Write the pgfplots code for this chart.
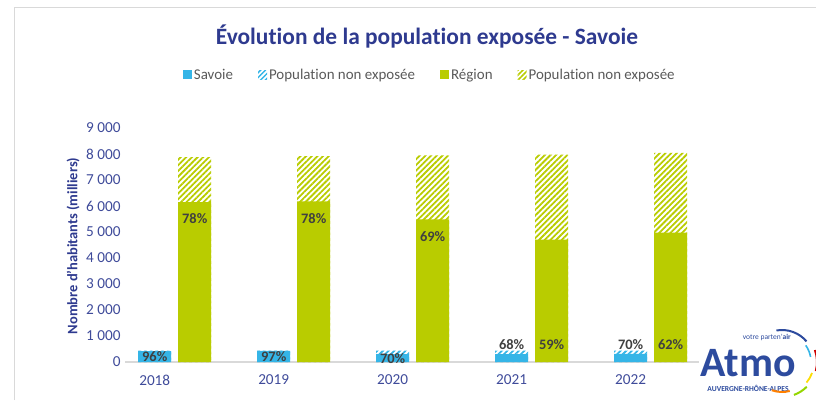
\documentclass[border=0pt]{standalone}
\usepackage{pgfplots}
\pgfplotsset{compat=1.18}
\usepackage{fontspec}
\setmainfont{Carlito}[Ligatures={NoCommon,NoContextual}]
\usetikzlibrary{patterns.meta}
\definecolor{cyanc}{HTML}{35B5E7}
\definecolor{greenc}{HTML}{B9CC00}
\definecolor{titleblue}{HTML}{2E3A8F}
\definecolor{tickblue}{HTML}{3F4B9A}
\definecolor{lblgray}{HTML}{404040}
\definecolor{atmoblue}{HTML}{2D4B9E}
\begin{document}
\begin{tikzpicture}[x=1bp,y=1bp]
\useasboundingbox (0,0) rectangle (816,400);
\draw[black!15, line width=1bp] (14,0) -- (14,392) -- (816,392);
\node[font=\fontsize{23.5}{26}\selectfont\bfseries, text=titleblue] at (427,363) {Évolution de la populat\kern0pt ion exposée - Savoie};
\node[rotate=90, font=\fontsize{14.5}{17}\selectfont\bfseries, text=titleblue] at (73,154) {Nombre d'habitants (milliers)};
\begin{axis}[
  at={(125bp,38bp)}, anchor=south west, scale only axis,
  width=574bp, height=234bp,
  xmin=-0.25, xmax=4.575, ymin=0, ymax=9000,
  axis x line*=bottom, axis y line*=left,
  x axis line style={draw=black!15, line width=1.2bp},
  y axis line style={draw=none},
  tick style={draw=none},
  xtick={0,1,2,3,4}, xticklabels={2018,2019,2020,2021,2022},
  ytick={0,1000,2000,3000,4000,5000,6000,7000,8000,9000},
  yticklabels={0,1 000,2 000,3 000,4 000,5 000,6 000,7 000,8 000,9 000},
  ticklabel style={font=\fontsize{15.3}{18}\selectfont, text=tickblue},
  xticklabel style={yshift=-5bp},
  yticklabel style={xshift=-1bp},
  ybar, bar width=33bp,
  legend columns=4,
  legend style={draw=none, fill=none, font=\fontsize{15}{18}\selectfont, text=black!65,
    at={(0.531,1.227)}, anchor=center,
    /tikz/every even column/.append style={column sep=23bp}},
  legend image code/.code={\fill[#1, draw=none] (0bp,-4.5bp) rectangle (9bp,4.5bp);},
  clip=false,
]
\addlegendimage{fill=cyanc, draw=none}
\addlegendentry{Savoie}
\addlegendimage{pattern={Lines[angle=45,distance=3.5bp,line width=1.5bp]}, pattern color=cyanc, draw=none}
\addlegendentry{Populat\kern0pt ion non exposée}
\addlegendimage{fill=greenc, draw=none}
\addlegendentry{Région}
\addlegendimage{pattern={Lines[angle=45,distance=3.5bp,line width=1.5bp]}, pattern color=greenc, draw=none}
\addlegendentry{Populat\kern0pt ion non exposée}
% Savoie total (hatched)
\addplot[forget plot, bar shift=0bp, draw=none, pattern={Lines[angle=45,distance=4bp,line width=1.8bp]}, pattern color=cyanc]
 coordinates {(0,436) (1,438) (2,436) (3,440) (4,442)};
% Savoie exposed
\addplot[forget plot, bar shift=0bp, draw=none, fill=cyanc]
 coordinates {(0,419) (1,425) (2,305) (3,299) (4,309)};
% Region total (hatched)
\addplot[forget plot, bar shift=40bp, draw=none, pattern={Lines[angle=45,distance=4bp,line width=1.8bp]}, pattern color=greenc]
 coordinates {(0,7880) (1,7920) (2,7950) (3,7980) (4,8040)};
% Region exposed
\addplot[forget plot, bar shift=40bp, draw=none, fill=greenc]
 coordinates {(0,6150) (1,6180) (2,5490) (3,4710) (4,4980)};
% data labels
\begin{scope}[every node/.style={font=\fontsize{14.5}{17}\selectfont\bfseries, text=lblgray}]
\node at (axis cs:0,192) {96\%};
\node at (axis cs:1,192) {97\%};
\node at (axis cs:2,115) {70\%};
\node at (axis cs:3,654) {68\%};
\node at (axis cs:4,654) {70\%};
\node[xshift=40bp] at (axis cs:0,5500) {78\%};
\node[xshift=40bp] at (axis cs:1,5500) {78\%};
\node[xshift=40bp] at (axis cs:2,4810) {69\%};
\node[xshift=40bp] at (axis cs:3,654) {59\%};
\node[xshift=40bp] at (axis cs:4,654) {62\%};
\end{scope}
\end{axis}
% logo
\node[font=\fontsize{42}{42}\selectfont\bfseries, text=atmoblue, anchor=base, inner sep=0pt] at (748,24) {Atmo};
\node[font=\fontsize{7.5}{8}\selectfont, text=atmoblue, anchor=base east, inner sep=0pt] at (791,61) {votre parten'\textbf{air}};
\node[font=\fontsize{7.6}{8}\selectfont\bfseries, text=atmoblue, anchor=base, inner sep=0pt] at (748,9) {AUVERGNE-RHÔNE-ALPES};
\draw[atmoblue, line width=2bp] (782,38) ++(100:32) arc (100:40:32);
\draw[cyanc, line width=1.6bp] (782,38) ++(35:29) arc (35:10:29);
\draw[red!80!black, line width=2bp] (782,38) ++(20:35) arc (20:-15:35);
\draw[yellow!80!orange, line width=1.8bp] (782,38) ++(-20:32) arc (-20:-40:32);
\draw[greenc!80!green, line width=2bp] (782,38) ++(-45:35) arc (-45:-70:35);
\draw[orange, line width=2bp] (782,38) ++(-75:30) arc (-75:-110:30);
\end{tikzpicture}
\end{document}
